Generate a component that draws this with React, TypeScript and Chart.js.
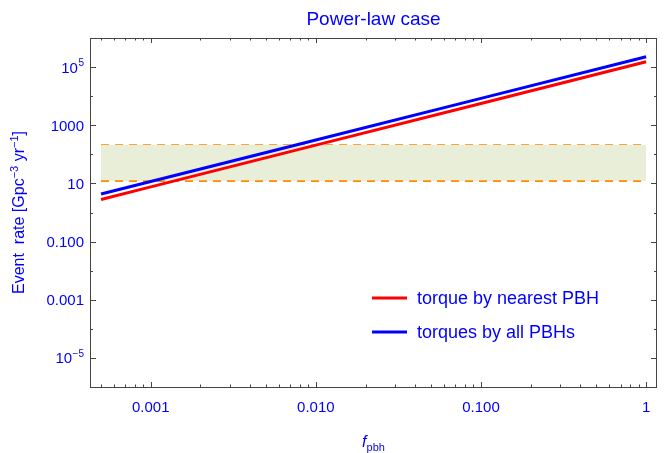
import React, { useEffect, useRef } from "react";
import { Chart, registerables } from "chart.js";

Chart.register(...registerables);

// ---- data ----
const fPbh = [5e-4, 1e-3, 1e-2, 1e-1, 1];
const rateNearest = [2.8, 7.6, 207, 5600, 1.52e5];
const rateAll = [4.3, 11.6, 313, 8400, 2.26e5];
const bandX = [5e-4, 1];
const bandLow = [12, 12];
const bandHigh = [213, 213];

const xTickValues = [0.001, 0.01, 0.1, 1];
const xTickLabels = ["0.001", "0.010", "0.100", "1"];
const yTickValues = [1e5, 1e3, 10, 0.1, 0.001, 1e-5];
const yTickBase = ["10", "1000", "10", "0.100", "0.001", "10"];
const yTickSup = ["5", "", "", "", "", "\u22125"];

const titleText = "Power-law case";
const seriesNames = ["torque by nearest PBH", "torques by all PBHs"];
const seriesColors = ["#ff0000", "#0000ff"];

const X_MIN = Math.pow(10, -3.368);
const X_MAX = Math.pow(10, 0.066);
const Y_MIN = 1e-6;
const Y_MAX = 1e6;

const BLUE = "#0000ff";
const FONT = '"Liberation Sans", Arial, Helvetica, sans-serif';
const FRAME = "#444444";
const DASH = "#ff8c00";

const decorPlugin = {
  id: "decor",
  afterDraw(chart: any) {
    const ctx = chart.ctx as CanvasRenderingContext2D;
    const { left, right, top, bottom } = chart.chartArea;
    const xs = chart.scales.x;
    const ys = chart.scales.y;
    ctx.save();

    // frame
    ctx.strokeStyle = FRAME;
    ctx.lineWidth = 1;
    ctx.strokeRect(Math.round(left) + 0.5, Math.round(top) + 0.5, Math.round(right - left) - 1, Math.round(bottom - top));

    // x ticks (inward, bottom & top)
    ctx.beginPath();
    for (let k = -4; k <= 0; k++) {
      for (let m = 1; m <= 9; m++) {
        const v = m * Math.pow(10, k);
        if (v < X_MIN || v > X_MAX) continue;
        const px = Math.round(xs.getPixelForValue(v)) + 0.5;
        const len = m === 1 ? 5 : 2.5;
        ctx.moveTo(px, bottom);
        ctx.lineTo(px, bottom - len);
        ctx.moveTo(px, top);
        ctx.lineTo(px, top + len);
      }
    }
    // y ticks (inward, left & right)
    for (let e = -6; e <= 6; e++) {
      const v = Math.pow(10, e);
      if (v < Y_MIN * 0.999 || v > Y_MAX * 1.001) continue;
      const py = Math.round(ys.getPixelForValue(v)) + 0.5;
      const len = Math.abs(e) % 2 === 1 ? 6 : 3;
      ctx.moveTo(left, py);
      ctx.lineTo(left + len, py);
      ctx.moveTo(right, py);
      ctx.lineTo(right - len, py);
    }
    ctx.stroke();

    ctx.fillStyle = BLUE;

    // x tick labels
    ctx.font = `15px ${FONT}`;
    ctx.textAlign = "center";
    ctx.textBaseline = "alphabetic";
    xTickValues.forEach((v, i) => {
      const px = xs.getPixelForValue(v);
      ctx.fillText(xTickLabels[i], px, 412);
    });

    // y tick labels
    yTickValues.forEach((v, i) => {
      const py = ys.getPixelForValue(v);
      const base = yTickBase[i];
      const sup = yTickSup[i];
      const xr = 84;
      ctx.textAlign = "left";
      ctx.font = `15px ${FONT}`;
      const wb = ctx.measureText(base).width;
      ctx.font = `10px ${FONT}`;
      const ws = sup ? ctx.measureText(sup).width + 0.5 : 0;
      const x0 = xr - wb - ws;
      ctx.font = `15px ${FONT}`;
      ctx.fillText(base, x0, py + 5.5);
      if (sup) {
        ctx.font = `10px ${FONT}`;
        ctx.fillText(sup, x0 + wb + 0.5, py - 1);
      }
    });

    // y axis title (rotated)
    {
      const segs: [string, boolean][] = [
        ["Event  rate [Gpc", false],
        ["\u22123", true],
        [" yr", false],
        ["\u22121", true],
        ["]", false],
      ];
      const big = `16px ${FONT}`;
      const small = `11px ${FONT}`;
      let total = 0;
      segs.forEach(([t, s]) => {
        ctx.font = s ? small : big;
        total += ctx.measureText(t).width;
      });
      ctx.save();
      ctx.translate(24, (top + bottom) / 2);
      ctx.rotate(-Math.PI / 2);
      let x = -total / 2;
      ctx.textAlign = "left";
      segs.forEach(([t, s]) => {
        ctx.font = s ? small : big;
        ctx.fillText(t, x, s ? -6 : 0);
        x += ctx.measureText(t).width;
      });
      ctx.restore();
    }

    // x axis title f_pbh
    {
      ctx.textAlign = "left";
      ctx.font = `italic 16px ${FONT}`;
      const wf = ctx.measureText("f").width;
      ctx.font = `11px ${FONT}`;
      const wp = ctx.measureText("pbh").width;
      const cx = (left + right) / 2;
      const x0 = cx - (wf + wp) / 2;
      ctx.font = `italic 16px ${FONT}`;
      ctx.fillText("f", x0, 447);
      ctx.font = `11px ${FONT}`;
      ctx.fillText("pbh", x0 + wf, 451);
    }

    // title
    ctx.font = `19px ${FONT}`;
    ctx.textAlign = "center";
    ctx.fillText(titleText, (left + right) / 2, 25);

    // legend
    const legY = [298, 332];
    seriesNames.forEach((name, i) => {
      ctx.strokeStyle = seriesColors[i];
      ctx.lineWidth = 3;
      ctx.beginPath();
      ctx.moveTo(372, legY[i]);
      ctx.lineTo(407, legY[i]);
      ctx.stroke();
      ctx.fillStyle = BLUE;
      ctx.font = `18px ${FONT}`;
      ctx.textAlign = "left";
      ctx.textBaseline = "middle";
      ctx.fillText(name, 417, legY[i] + 1);
    });

    ctx.restore();
  },
};

export default function App() {
  const ref = useRef<HTMLCanvasElement | null>(null);

  useEffect(() => {
    document.body.style.margin = "0";
    const canvas = ref.current;
    if (!canvas) return;
    const pts = (ys: number[], xsArr: number[]) => xsArr.map((x, i) => ({ x, y: ys[i] }));
    const chart = new Chart(canvas, {
      type: "line",
      data: {
        datasets: [
          {
            label: seriesNames[1],
            data: pts(rateAll, fPbh),
            borderColor: seriesColors[1],
            borderWidth: 3,
            pointRadius: 0,
            fill: false,
            tension: 0,
            order: 0,
          },
          {
            label: seriesNames[0],
            data: pts(rateNearest, fPbh),
            borderColor: seriesColors[0],
            borderWidth: 3,
            pointRadius: 0,
            fill: false,
            tension: 0,
            order: 1,
          },
          {
            label: "band low",
            data: pts(bandLow, bandX),
            borderColor: DASH,
            borderWidth: 1.6,
            borderDash: [8, 6],
            backgroundColor: "rgb(232,238,216)",
            pointRadius: 0,
            fill: "+1",
            order: 2,
          },
          {
            label: "band high",
            data: pts(bandHigh, bandX),
            borderColor: DASH,
            borderWidth: 1.6,
            borderDash: [8, 6],
            pointRadius: 0,
            fill: false,
            order: 3,
          },
        ],
      },
      options: {
        animation: false,
        responsive: false,
        devicePixelRatio: 1,
        layout: { padding: { left: 90, right: 10, top: 38, bottom: 66 } },
        plugins: { legend: { display: false }, tooltip: { enabled: false } },
        scales: {
          x: { type: "logarithmic", min: X_MIN, max: X_MAX, display: false },
          y: { type: "logarithmic", min: Y_MIN, max: Y_MAX, display: false },
        },
      },
      plugins: [decorPlugin],
    } as any);
    return () => chart.destroy();
  }, []);

  return (
    <div style={{ position: "fixed", left: 0, top: 0, width: 667, height: 453, background: "#fff" }}>
      <canvas ref={ref} width={667} height={453} />
    </div>
  );
}
